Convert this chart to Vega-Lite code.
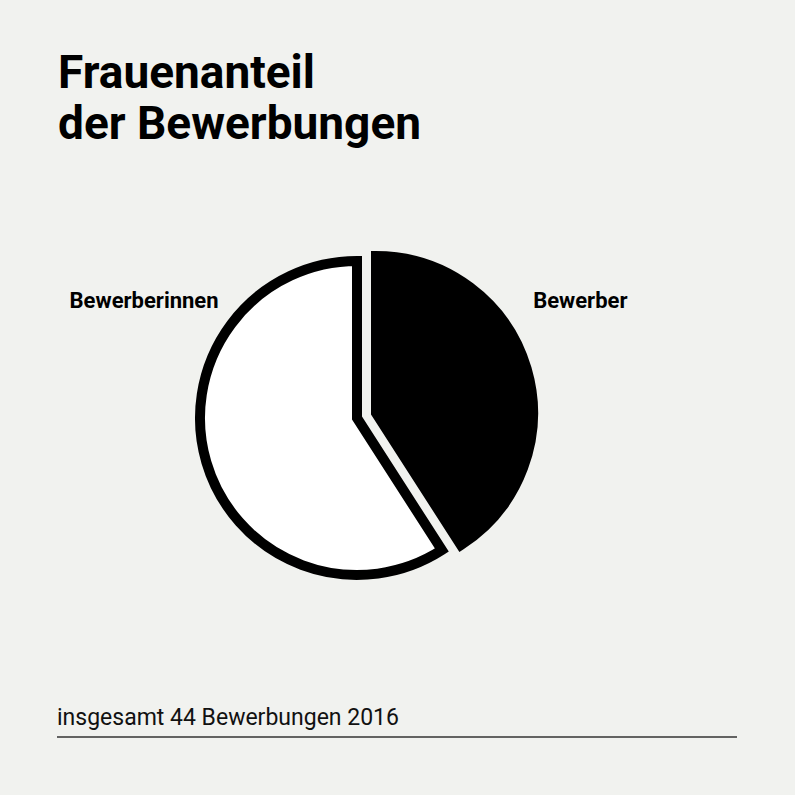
{
  "$schema": "https://vega.github.io/schema/vega-lite/v6.json",
  "autosize": {"type": "none"},
  "padding": {"left": 57, "top": 160, "right": 738, "bottom": 635},
  "background": "#f1f2ef",
  "bounds": "flush",
  "spacing": 49,
  "config": {"view": {"stroke": null}, "font": "Roboto"},
  "vconcat": [
    {
      "width": 600,
      "height": 516,
      "title": {
        "text": ["Frauenanteil", "der Bewerbungen"],
        "anchor": "start",
        "frame": "group",
        "font": "Roboto",
        "fontSize": 46,
        "fontWeight": "bold",
        "color": "#000000",
        "lineHeight": 51,
        "baseline": "bottom",
        "offset": -35,
        "dx": 1
      },
      "data": {
        "values": [
          {"gruppe": "Bewerber", "anzahl": 18},
          {"gruppe": "Bewerberinnen", "anzahl": 26}
        ]
      },
      "transform": [
        {"stack": "anzahl", "groupby": [], "sort": [{"field": "gruppe", "order": "ascending"}], "as": ["start", "ende"]}
      ],
      "layer": [
        {
          "transform": [{"filter": "datum.gruppe === 'Bewerberinnen'"}],
          "mark": {"type": "arc", "fill": "#ffffff", "stroke": "#000000", "strokeWidth": 10, "strokeJoin": "miter", "outerRadius": 157},
          "encoding": {
            "theta": {"field": "start", "type": "quantitative", "scale": {"domain": [0, 44]}},
            "theta2": {"field": "ende"}
          }
        },
        {
          "transform": [{"filter": "datum.gruppe === 'Bewerber'"}],
          "mark": {"type": "arc", "fill": "#000000", "stroke": "#000000", "strokeWidth": 10, "strokeJoin": "miter", "outerRadius": 157, "xOffset": 19, "yOffset": -5},
          "encoding": {
            "theta": {"field": "start", "type": "quantitative"},
            "theta2": {"field": "ende"}
          }
        },
        {
          "transform": [{"filter": "datum.gruppe === 'Bewerber'"}],
          "mark": {"type": "text", "font": "Roboto", "fontSize": 22, "fontWeight": "bold", "color": "#000000", "baseline": "middle", "align": "center", "thetaOffset": 1.089, "radius": 252},
          "encoding": {
            "theta": {"field": "start", "type": "quantitative"},
            "text": {"field": "gruppe"}
          }
        },
        {
          "transform": [{"filter": "datum.gruppe === 'Bewerberinnen'"}],
          "mark": {"type": "text", "font": "Roboto", "fontSize": 22, "fontWeight": "bold", "color": "#000000", "baseline": "middle", "align": "center", "thetaOffset": -1.068, "radius": 243},
          "encoding": {
            "theta": {"field": "ende", "type": "quantitative"},
            "text": {"field": "gruppe"}
          }
        }
      ]
    },
    {
      "width": 680,
      "height": 12,
      "title": {
        "text": "insgesamt 44 Bewerbungen 2016",
        "anchor": "start",
        "frame": "group",
        "font": "Roboto",
        "fontSize": 23,
        "fontWeight": "normal",
        "color": "#111111",
        "baseline": "alphabetic",
        "offset": -23
      },
      "data": {"values": [{"gesamt": 44}]},
      "mark": {"type": "rule", "color": "#333333", "strokeWidth": 1.5},
      "encoding": {
        "y": {"datum": 0, "type": "quantitative", "scale": {"domain": [0, 1]}, "axis": null}
      }
    }
  ]
}
